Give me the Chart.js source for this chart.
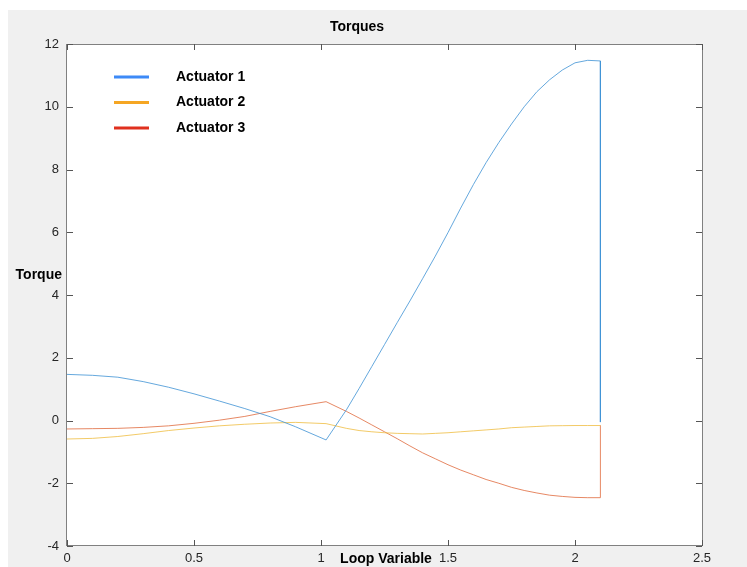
<!DOCTYPE html>
<html>
<head>
<meta charset="utf-8">
<script src="https://cdn.jsdelivr.net/npm/chart.js@4"></script>
<style>
  html, body { margin: 0; padding: 0; background: #fff; }
  #wrap { width: 747px; height: 567px; }
</style>
</head>
<body>
<div id="wrap"><canvas id="c" width="747" height="567"></canvas></div>
<script>
// Loop variable samples (last one repeated for the final drop)
const loopVar = [0, 0.1, 0.2, 0.3, 0.4, 0.5, 0.6, 0.7, 0.8, 0.9, 1.02,
  1.1, 1.15, 1.2, 1.25, 1.3, 1.35, 1.4, 1.45, 1.5, 1.55, 1.6, 1.65, 1.7, 1.75,
  1.8, 1.85, 1.9, 1.95, 2.0, 2.05, 2.1, 2.1];

const actuator1 = [1.47, 1.44, 1.38, 1.24, 1.06, 0.85, 0.62, 0.38, 0.12, -0.2, -0.62,
  0.34, 1.02, 1.72, 2.42, 3.12, 3.81, 4.52, 5.24, 5.99, 6.77, 7.52, 8.22, 8.86, 9.45,
  10.0, 10.48, 10.86, 11.17, 11.4, 11.48, 11.46, -0.05];
const actuator2 = [-0.59, -0.57, -0.51, -0.42, -0.32, -0.24, -0.17, -0.12, -0.08, -0.06, -0.1,
  -0.25, -0.32, -0.36, -0.39, -0.41, -0.42, -0.43, -0.41, -0.39, -0.36, -0.33, -0.3, -0.27, -0.23,
  -0.21, -0.19, -0.17, -0.165, -0.16, -0.16, -0.16, -0.16];
const actuator3 = [-0.27, -0.26, -0.25, -0.22, -0.17, -0.09, 0.01, 0.13, 0.29, 0.44, 0.6,
  0.29, 0.08, -0.14, -0.36, -0.58, -0.81, -1.03, -1.22, -1.41, -1.58, -1.73, -1.88, -2.0, -2.13,
  -2.23, -2.31, -2.38, -2.42, -2.45, -2.46, -2.46, -0.15];

const seriesNames = ['Actuator 1', 'Actuator 2', 'Actuator 3'];
const lineColors = ['#3d92d4', '#efbc40', '#df6a3c'];
const legendColors = ['#3d8af7', '#f5a623', '#e0301e'];

const xTicks = [0, 0.5, 1, 1.5, 2, 2.5];
const yTicks = [-4, -2, 0, 2, 4, 6, 8, 10, 12];

const FONT = '"Liberation Sans", Arial, Helvetica, sans-serif';

function toPoints(ys) {
  return ys.map((y, i) => ({ x: loopVar[i], y: y }));
}

// background, box, inward ticks, title, axis labels, legend
const matlabLook = {
  id: 'matlabLook',
  beforeDraw(chart) {
    const ctx = chart.ctx;
    const a = chart.chartArea;
    ctx.save();
    ctx.fillStyle = '#f0f0f0';
    ctx.fillRect(8, 10, chart.width - 8, chart.height - 10);
    ctx.fillStyle = '#ffffff';
    ctx.fillRect(a.left, a.top, a.right - a.left, a.bottom - a.top);
    ctx.restore();
  },
  afterDraw(chart) {
    const ctx = chart.ctx;
    const a = chart.chartArea;
    const xs = chart.scales.x;
    const ys = chart.scales.y;
    ctx.save();

    // box
    ctx.strokeStyle = '#808080';
    ctx.lineWidth = 1;
    ctx.strokeRect(Math.round(a.left) - 0.5, Math.round(a.top) + 0.5,
      Math.round(a.right - a.left) + 1, Math.round(a.bottom - a.top) - 1);

    // inward ticks on all four sides
    ctx.strokeStyle = '#555';
    ctx.beginPath();
    xTicks.forEach(v => {
      const px = Math.round(xs.getPixelForValue(v)) + 0.5;
      ctx.moveTo(px, a.bottom); ctx.lineTo(px, a.bottom - 6);
      ctx.moveTo(px, a.top); ctx.lineTo(px, a.top + 6);
    });
    yTicks.forEach(v => {
      const py = Math.round(ys.getPixelForValue(v)) + 0.5;
      ctx.moveTo(a.left, py); ctx.lineTo(a.left + 6, py);
      ctx.moveTo(a.right, py); ctx.lineTo(a.right - 6, py);
    });
    ctx.stroke();

    // title and axis labels
    ctx.fillStyle = '#000';
    ctx.font = 'bold 14px ' + FONT;
    ctx.textBaseline = 'middle';
    ctx.textAlign = 'center';
    ctx.fillText('Torques', 357, 27);
    ctx.fillText('Loop Variable', 386, 559);
    ctx.textAlign = 'right';
    ctx.fillText('Torque', 62, 275);

    // legend
    chart.data.datasets.forEach((ds, i) => {
      const y = 77 + i * 25.5;
      ctx.strokeStyle = legendColors[i];
      ctx.lineWidth = 3;
      ctx.beginPath();
      ctx.moveTo(114, y); ctx.lineTo(149, y);
      ctx.stroke();
      ctx.textAlign = 'left';
      ctx.fillText(ds.label, 176, y);
    });
    ctx.restore();
  }
};

new Chart(document.getElementById('c'), {
  type: 'scatter',
  data: {
    datasets: [
      { label: seriesNames[0], data: toPoints(actuator1), borderColor: lineColors[0] },
      { label: seriesNames[1], data: toPoints(actuator2), borderColor: lineColors[1] },
      { label: seriesNames[2], data: toPoints(actuator3), borderColor: lineColors[2] }
    ].map(d => Object.assign(d, { showLine: true, pointRadius: 0, borderWidth: 0.8, tension: 0, backgroundColor: d.borderColor }))
  },
  options: {
    responsive: false,
    animation: false,
    layout: { padding: { top: 44, right: 45, left: 0, bottom: 0 } },
    plugins: {
      legend: { display: false },
      title: { display: false },
      tooltip: { enabled: false }
    },
    scales: {
      x: {
        type: 'linear',
        min: 0, max: 2.5,
        afterFit: s => { s.height = 21; },
        afterBuildTicks: s => { s.ticks = xTicks.map(v => ({ value: v })); },
        grid: { display: false, drawTicks: false },
        border: { display: false },
        ticks: { padding: 5, color: '#262626', font: { family: FONT, size: 13 }, maxRotation: 0,
          callback: v => String(v) }
      },
      y: {
        type: 'linear',
        min: -4, max: 12,
        afterFit: s => { s.width = 67; },
        afterBuildTicks: s => { s.ticks = yTicks.map(v => ({ value: v })); },
        grid: { display: false, drawTicks: false },
        border: { display: false },
        ticks: { padding: 8, color: '#262626', font: { family: FONT, size: 13 } }
      }
    }
  },
  plugins: [matlabLook]
});
</script>
</body>
</html>
